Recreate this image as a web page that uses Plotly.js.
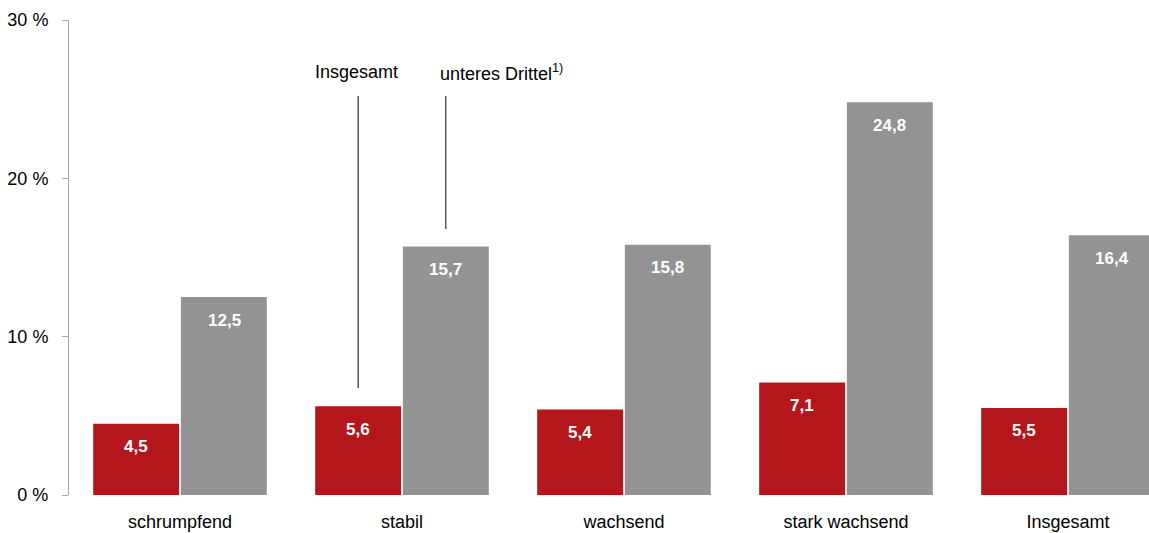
<!DOCTYPE html>
<html>
<head>
<meta charset="utf-8">
<script src="https://cdn.plot.ly/plotly-3.0.1.min.js"></script>
<style>html,body{margin:0;padding:0;background:#fff;}#chart{width:1149px;height:533px;}</style>
</head>
<body>
<div id="chart"></div>
<script>
const categories = ['schrumpfend', 'stabil', 'wachsend', 'stark wachsend', 'Insgesamt'];
const insgesamt = [4.5, 5.6, 5.4, 7.1, 5.5];
const unteresDrittel = [12.5, 15.7, 15.8, 24.8, 16.4];
const yTickVals = [0, 10, 20, 30];
const yTickText = ['0 %', '10 %', '20 %', '30 %'];
const seriesNames = ['Insgesamt', 'unteres Drittel<sup>1)</sup>'];

const RED = '#B3171B';
const GREY = '#929392';
const FONT = 'Liberation Sans, Arial, sans-serif';
const fmt = v => v.toFixed(1).replace('.', ',');

const traces = [
  {type: 'bar', x: categories, y: insgesamt, name: seriesNames[0], marker: {color: RED}, hoverinfo: 'none'},
  {type: 'bar', x: categories, y: unteresDrittel, name: seriesNames[1], marker: {color: GREY}, hoverinfo: 'none'}
];

const annotations = [];
categories.forEach((c, i) => {
  annotations.push({x: c, y: insgesamt[i], xref: 'x', yref: 'y', xshift: -44, yshift: -23, text: fmt(insgesamt[i]), showarrow: false, font: {family: FONT, size: 17, color: '#fff', weight: 'bold'}});
  annotations.push({x: c, y: unteresDrittel[i], xref: 'x', yref: 'y', xshift: 44, yshift: -23, text: fmt(unteresDrittel[i]), showarrow: false, font: {family: FONT, size: 17, color: '#fff', weight: 'bold'}});
});
// legend-like labels above "stabil"
annotations.push({x: 1 - 0.1975, y: 26.7, xref: 'x', yref: 'y', xshift: -2, text: seriesNames[0], showarrow: false, xanchor: 'center', font: {family: FONT, size: 18, color: '#000'}});
annotations.push({x: 1 + 0.1975, y: 26.7, xref: 'x', yref: 'y', xshift: -8, text: seriesNames[1], showarrow: false, xanchor: 'left', font: {family: FONT, size: 18, color: '#000'}});

const shapes = [
  {type: 'line', xref: 'x', yref: 'y', x0: 1 - 0.1975, x1: 1 - 0.1975, y0: 6.75, y1: 25.2, line: {color: '#000', width: 1}},
  {type: 'line', xref: 'x', yref: 'y', x0: 1 + 0.1975, x1: 1 + 0.1975, y0: 16.8, y1: 25.2, line: {color: '#000', width: 1}}
];

const layout = {
  width: 1149, height: 533,
  margin: {l: 69, r: 0, t: 20, b: 38, pad: 0},
  paper_bgcolor: '#fff', plot_bgcolor: '#fff',
  showlegend: false,
  barmode: 'group', bargap: 0.21, bargroupgap: 0.02,
  font: {family: FONT, size: 18, color: '#000'},
  xaxis: {
    type: 'category', range: [-0.5, 4.365], showgrid: false, zeroline: false, showline: false,
    ticks: '', ticklabelstandoff: 14, tickfont: {size: 18, color: '#000'}
  },
  yaxis: {
    range: [0, 30], tickvals: yTickVals, ticktext: yTickText, showgrid: false, zeroline: false,
    showline: true, linecolor: '#A6A6A6', linewidth: 1, ticks: 'outside', ticklen: 6, tickcolor: '#A6A6A6',
    ticklabelstandoff: 10, tickfont: {size: 18, color: '#000'}
  },
  annotations: annotations,
  shapes: shapes
};

Plotly.newPlot('chart', traces, layout, {staticPlot: true, displayModeBar: false});
</script>
</body>
</html>
